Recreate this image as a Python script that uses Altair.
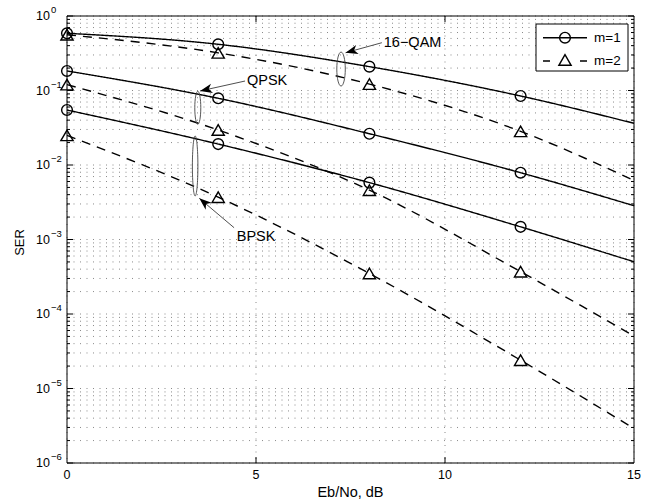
import math

import altair as alt
import pandas as pd

# Eb/No sample points (dB) and symbol error rates for each scheme / order m
EBNO = [0, 4, 8, 12, 15]
MARKED_EBNO = [0, 4, 8, 12]
SER_16QAM_M1 = [0.586, 0.417, 0.209, 0.0844, 0.0363]
SER_16QAM_M2 = [0.56, 0.32, 0.122, 0.0283, 0.0062]
SER_QPSK_M1 = [0.183, 0.0786, 0.0263, 0.00788, 0.00284]
SER_QPSK_M2 = [0.12, 0.0295, 0.0046, 0.00037, 0.0000507]
SER_BPSK_M1 = [0.0547, 0.0191, 0.0058, 0.00148, 0.000503]
SER_BPSK_M2 = [0.025, 0.0037, 0.00035, 0.000024, 0.0000029]

SERIES = [
    ("16-QAM", "m=1", SER_16QAM_M1),
    ("16-QAM", "m=2", SER_16QAM_M2),
    ("QPSK", "m=1", SER_QPSK_M1),
    ("QPSK", "m=2", SER_QPSK_M2),
    ("BPSK", "m=1", SER_BPSK_M1),
    ("BPSK", "m=2", SER_BPSK_M2),
]

# x axis ticks
X_TICKS = [0, 5, 10, 15]

# callouts: ellipse around each scheme's pair of curves, arrow and label
CALLOUT_NAMES = ["16−QAM", "QPSK", "BPSK"]
ELLIPSE_X = [7.25, 3.46, 3.39]
ELLIPSE_Y = [0.194, 0.0586, 0.0097]
ELLIPSE_H = [34, 33, 60]
ELLIPSE_W = [8.5, 6, 5.5]
ARROW_FROM_X = [8.33, 4.71, 4.42]
ARROW_FROM_Y = [0.438, 0.134, 1.44e-3]
ARROW_TO_X = [7.37, 3.52, 3.50]
ARROW_TO_Y = [0.3215, 0.0985, 3.57e-3]
LABEL_X = [8.38, 4.76, 4.49]
LABEL_Y = [0.438, 0.134, 1.07e-3]

W, H = 567, 447
X_DOMAIN = [0, 15]
Y_DOMAIN = [1e-6, 1]
FONT = "Liberation Sans"
GRID_COLOR = "#8a8a8a"
GRID_DASH = [1, 5.5]

rows = []
for scheme, m, vals in SERIES:
    for x, v in zip(EBNO, vals):
        rows.append({"scheme": scheme, "m": m, "ebno": x, "ser": v, "series": f"{scheme} {m}"})
df = pd.DataFrame(rows)
marks_df = df[df["ebno"].isin(MARKED_EBNO)]

xs = alt.Scale(domain=X_DOMAIN, nice=False, zero=False)
ys = alt.Scale(type="log", domain=Y_DOMAIN, nice=False)

major = [10.0 ** k for k in range(-6, 1)]
minor = [m * 10.0 ** k for k in range(-6, 0) for m in range(2, 10)]


def X(field):
    return alt.X(field, scale=xs, axis=None)


def Y(field):
    return alt.Y(field, scale=ys, axis=None)


one = pd.DataFrame({"k": [0]})

# dotted grid: every decade and sub-decade horizontally, major Eb/No ticks vertically
hgrid = alt.Chart(pd.DataFrame({"v": major + minor})).mark_rule(
    color=GRID_COLOR, strokeWidth=1, strokeDash=GRID_DASH
).encode(y=Y("v:Q"), x=alt.value(0), x2=alt.value(W))
vgrid = alt.Chart(pd.DataFrame({"v": X_TICKS})).mark_rule(
    color=GRID_COLOR, strokeWidth=1, strokeDash=GRID_DASH
).encode(x=X("v:Q"), y=alt.value(0), y2=alt.value(H))

lines = alt.Chart(df).mark_line(interpolate="monotone", color="black", strokeWidth=1.4).encode(
    x=X("ebno:Q"),
    y=Y("ser:Q"),
    detail="series:N",
    strokeDash=alt.StrokeDash(
        "m:N", scale=alt.Scale(domain=["m=1", "m=2"], range=[[1, 0], [9, 7]]), legend=None
    ),
)

circles = alt.Chart(marks_df).transform_filter("datum.m == 'm=1'").mark_point(
    shape="circle", size=115, filled=False, color="black", strokeWidth=1.4, opacity=1
).encode(x=X("ebno:Q"), y=Y("ser:Q"))

triangles = alt.Chart(marks_df).transform_filter("datum.m == 'm=2'").mark_point(
    shape="triangle-up", size=150, filled=False, color="black", strokeWidth=1.4, opacity=1
).encode(x=X("ebno:Q"), y=Y("ser:Q"))


# inner tick marks on all four sides of the box
def ytick(values, x0, x1):
    return alt.Chart(pd.DataFrame({"v": values})).mark_rule(color="black", strokeWidth=1).encode(
        y=Y("v:Q"), x=alt.value(x0), x2=alt.value(x1)
    )


def xtick(y0, y1):
    return alt.Chart(pd.DataFrame({"v": X_TICKS[1:-1]})).mark_rule(color="black", strokeWidth=1).encode(
        x=X("v:Q"), y=alt.value(y0), y2=alt.value(y1)
    )


ticks = [
    ytick(major, 0, 6), ytick(minor, 0, 3),
    ytick(major, W - 6, W), ytick(minor, W - 3, W),
    xtick(H, H - 6), xtick(0, 6),
]

frame = alt.Chart(one).mark_rect(fill=None, stroke="black", strokeWidth=1).encode(
    x=alt.value(0), x2=alt.value(W), y=alt.value(0), y2=alt.value(H)
)

# x tick labels and title
xlab = alt.Chart(pd.DataFrame({"v": X_TICKS})).mark_text(
    align="center", baseline="middle", font=FONT, fontSize=12.5, color="black"
).encode(x=X("v:Q"), y=alt.value(H + 12), text=alt.Text("v:Q"))
xtitle = alt.Chart(one).mark_text(align="center", baseline="middle", font=FONT, fontSize=14.5, color="black").encode(
    x=alt.value(W / 2), y=alt.value(H + 30), text=alt.value("Eb/No, dB")
)

# y tick labels as 10 with a raised exponent
decades = list(range(0, -7, -1))
ylab = pd.DataFrame({"v": [10.0 ** k for k in decades], "exp": [str(k).replace("-", "−") for k in decades]})
ybase = alt.Chart(ylab).mark_text(align="right", baseline="middle", font=FONT, fontSize=12.5, color="black").encode(
    x=alt.value(-17), y=Y("v:Q"), text=alt.value("10")
)
yexp = alt.Chart(ylab).mark_text(align="left", baseline="middle", font=FONT, fontSize=9.5, dy=-6, color="black").encode(
    x=alt.value(-16), y=Y("v:Q"), text="exp:N"
)
ytitle = alt.Chart(one).mark_text(angle=270, baseline="middle", align="center", font=FONT, fontSize=13, color="black").encode(
    x=alt.value(-47), y=alt.value(H / 2 + 3), text=alt.value("SER")
)


# callouts
def ellipse_path(a):
    k = 0.5523
    f = lambda v: f"{v:.4f}"
    return (
        f"M0,-1C{f(k*a)},-1 {f(a)},{f(-k)} {f(a)},0"
        f"C{f(a)},{f(k)} {f(k*a)},1 0,1"
        f"C{f(-k*a)},1 {f(-a)},{f(k)} {f(-a)},0"
        f"C{f(-a)},{f(-k)} {f(-k*a)},-1 0,-1Z"
    )


def to_px(x, y):
    px = (x - X_DOMAIN[0]) / (X_DOMAIN[1] - X_DOMAIN[0]) * W
    py = H * (math.log10(Y_DOMAIN[1]) - math.log10(y)) / (math.log10(Y_DOMAIN[1]) - math.log10(Y_DOMAIN[0]))
    return px, py


ell = pd.DataFrame({
    "x": ELLIPSE_X, "y": ELLIPSE_Y,
    "path": [ellipse_path((w / 2) / (h / 2)) for w, h in zip(ELLIPSE_W, ELLIPSE_H)],
    "size": [h * h for h in ELLIPSE_H],
})
ellipses = alt.Chart(ell).mark_point(filled=False, color="#444", strokeWidth=0.9, opacity=1).encode(
    x=X("x:Q"), y=Y("y:Q"),
    shape=alt.Shape("path:N", scale=None, legend=None),
    size=alt.Size("size:Q", scale=None, legend=None),
)

angles = []
for x0, y0, x1, y1 in zip(ARROW_FROM_X, ARROW_FROM_Y, ARROW_TO_X, ARROW_TO_Y):
    (p0x, p0y), (p1x, p1y) = to_px(x0, y0), to_px(x1, y1)
    angles.append(math.degrees(math.atan2(p1x - p0x, -(p1y - p0y))) % 360)
arr = pd.DataFrame({"x": ARROW_FROM_X, "y": ARROW_FROM_Y, "x2": ARROW_TO_X, "y2": ARROW_TO_Y, "angle": angles})
shafts = alt.Chart(arr).mark_rule(color="#222", strokeWidth=0.8).encode(
    x=X("x:Q"), y=Y("y:Q"), x2="x2:Q", y2="y2:Q"
)
heads = alt.Chart(arr).mark_point(
    shape="M0,0L-0.38,1L0,0.72L0.38,1Z", size=600, filled=True, color="black", opacity=1, strokeWidth=0
).encode(x=X("x2:Q"), y=Y("y2:Q"), angle=alt.Angle("angle:Q", scale=None))

lab = pd.DataFrame({"text": CALLOUT_NAMES, "x": LABEL_X, "y": LABEL_Y})
labels = alt.Chart(lab).mark_text(align="left", baseline="middle", font=FONT, fontSize=14.5, color="black").encode(
    x=X("x:Q"), y=Y("y:Q"), text="text:N"
)

# legend box
leg_box = alt.Chart(one).mark_rect(fill="white", stroke="black", strokeWidth=1).encode(
    x=alt.value(469), x2=alt.value(561), y=alt.value(8), y2=alt.value(55)
)
leg_line1 = alt.Chart(one).mark_rule(color="black", strokeWidth=1.4).encode(
    x=alt.value(476), x2=alt.value(520), y=alt.value(21.7)
)
leg_line2 = alt.Chart(one).mark_rule(color="black", strokeWidth=1.4, strokeDash=[7, 30]).encode(
    x=alt.value(476), x2=alt.value(520), y=alt.value(45)
)
leg_c = alt.Chart(one).mark_point(shape="circle", size=115, filled=False, color="black", strokeWidth=1.4, opacity=1).encode(
    x=alt.value(498), y=alt.value(21.7)
)
leg_t = alt.Chart(one).mark_point(shape="triangle-up", size=150, filled=False, color="black", strokeWidth=1.4, opacity=1).encode(
    x=alt.value(498), y=alt.value(44)
)
leg_txt1 = alt.Chart(one).mark_text(align="left", baseline="middle", font=FONT, fontSize=13.5, color="black").encode(
    x=alt.value(527), y=alt.value(22), text=alt.value("m=1")
)
leg_txt2 = alt.Chart(one).mark_text(align="left", baseline="middle", font=FONT, fontSize=13.5, color="black").encode(
    x=alt.value(527), y=alt.value(45), text=alt.value("m=2")
)

chart = alt.layer(
    hgrid, vgrid, lines, circles, triangles, *ticks, frame,
    xlab, xtitle, ybase, yexp, ytitle,
    ellipses, shafts, heads, labels,
    leg_box, leg_line1, leg_line2, leg_c, leg_t, leg_txt1, leg_txt2,
).properties(
    width=W, height=H,
    padding={"left": 67, "top": 16, "right": 23, "bottom": 41},
    autosize=alt.AutoSizeParams(type="none"),
).configure_view(stroke=None)

chart.save("out.html", embed_options={"renderer": "svg", "actions": False})
